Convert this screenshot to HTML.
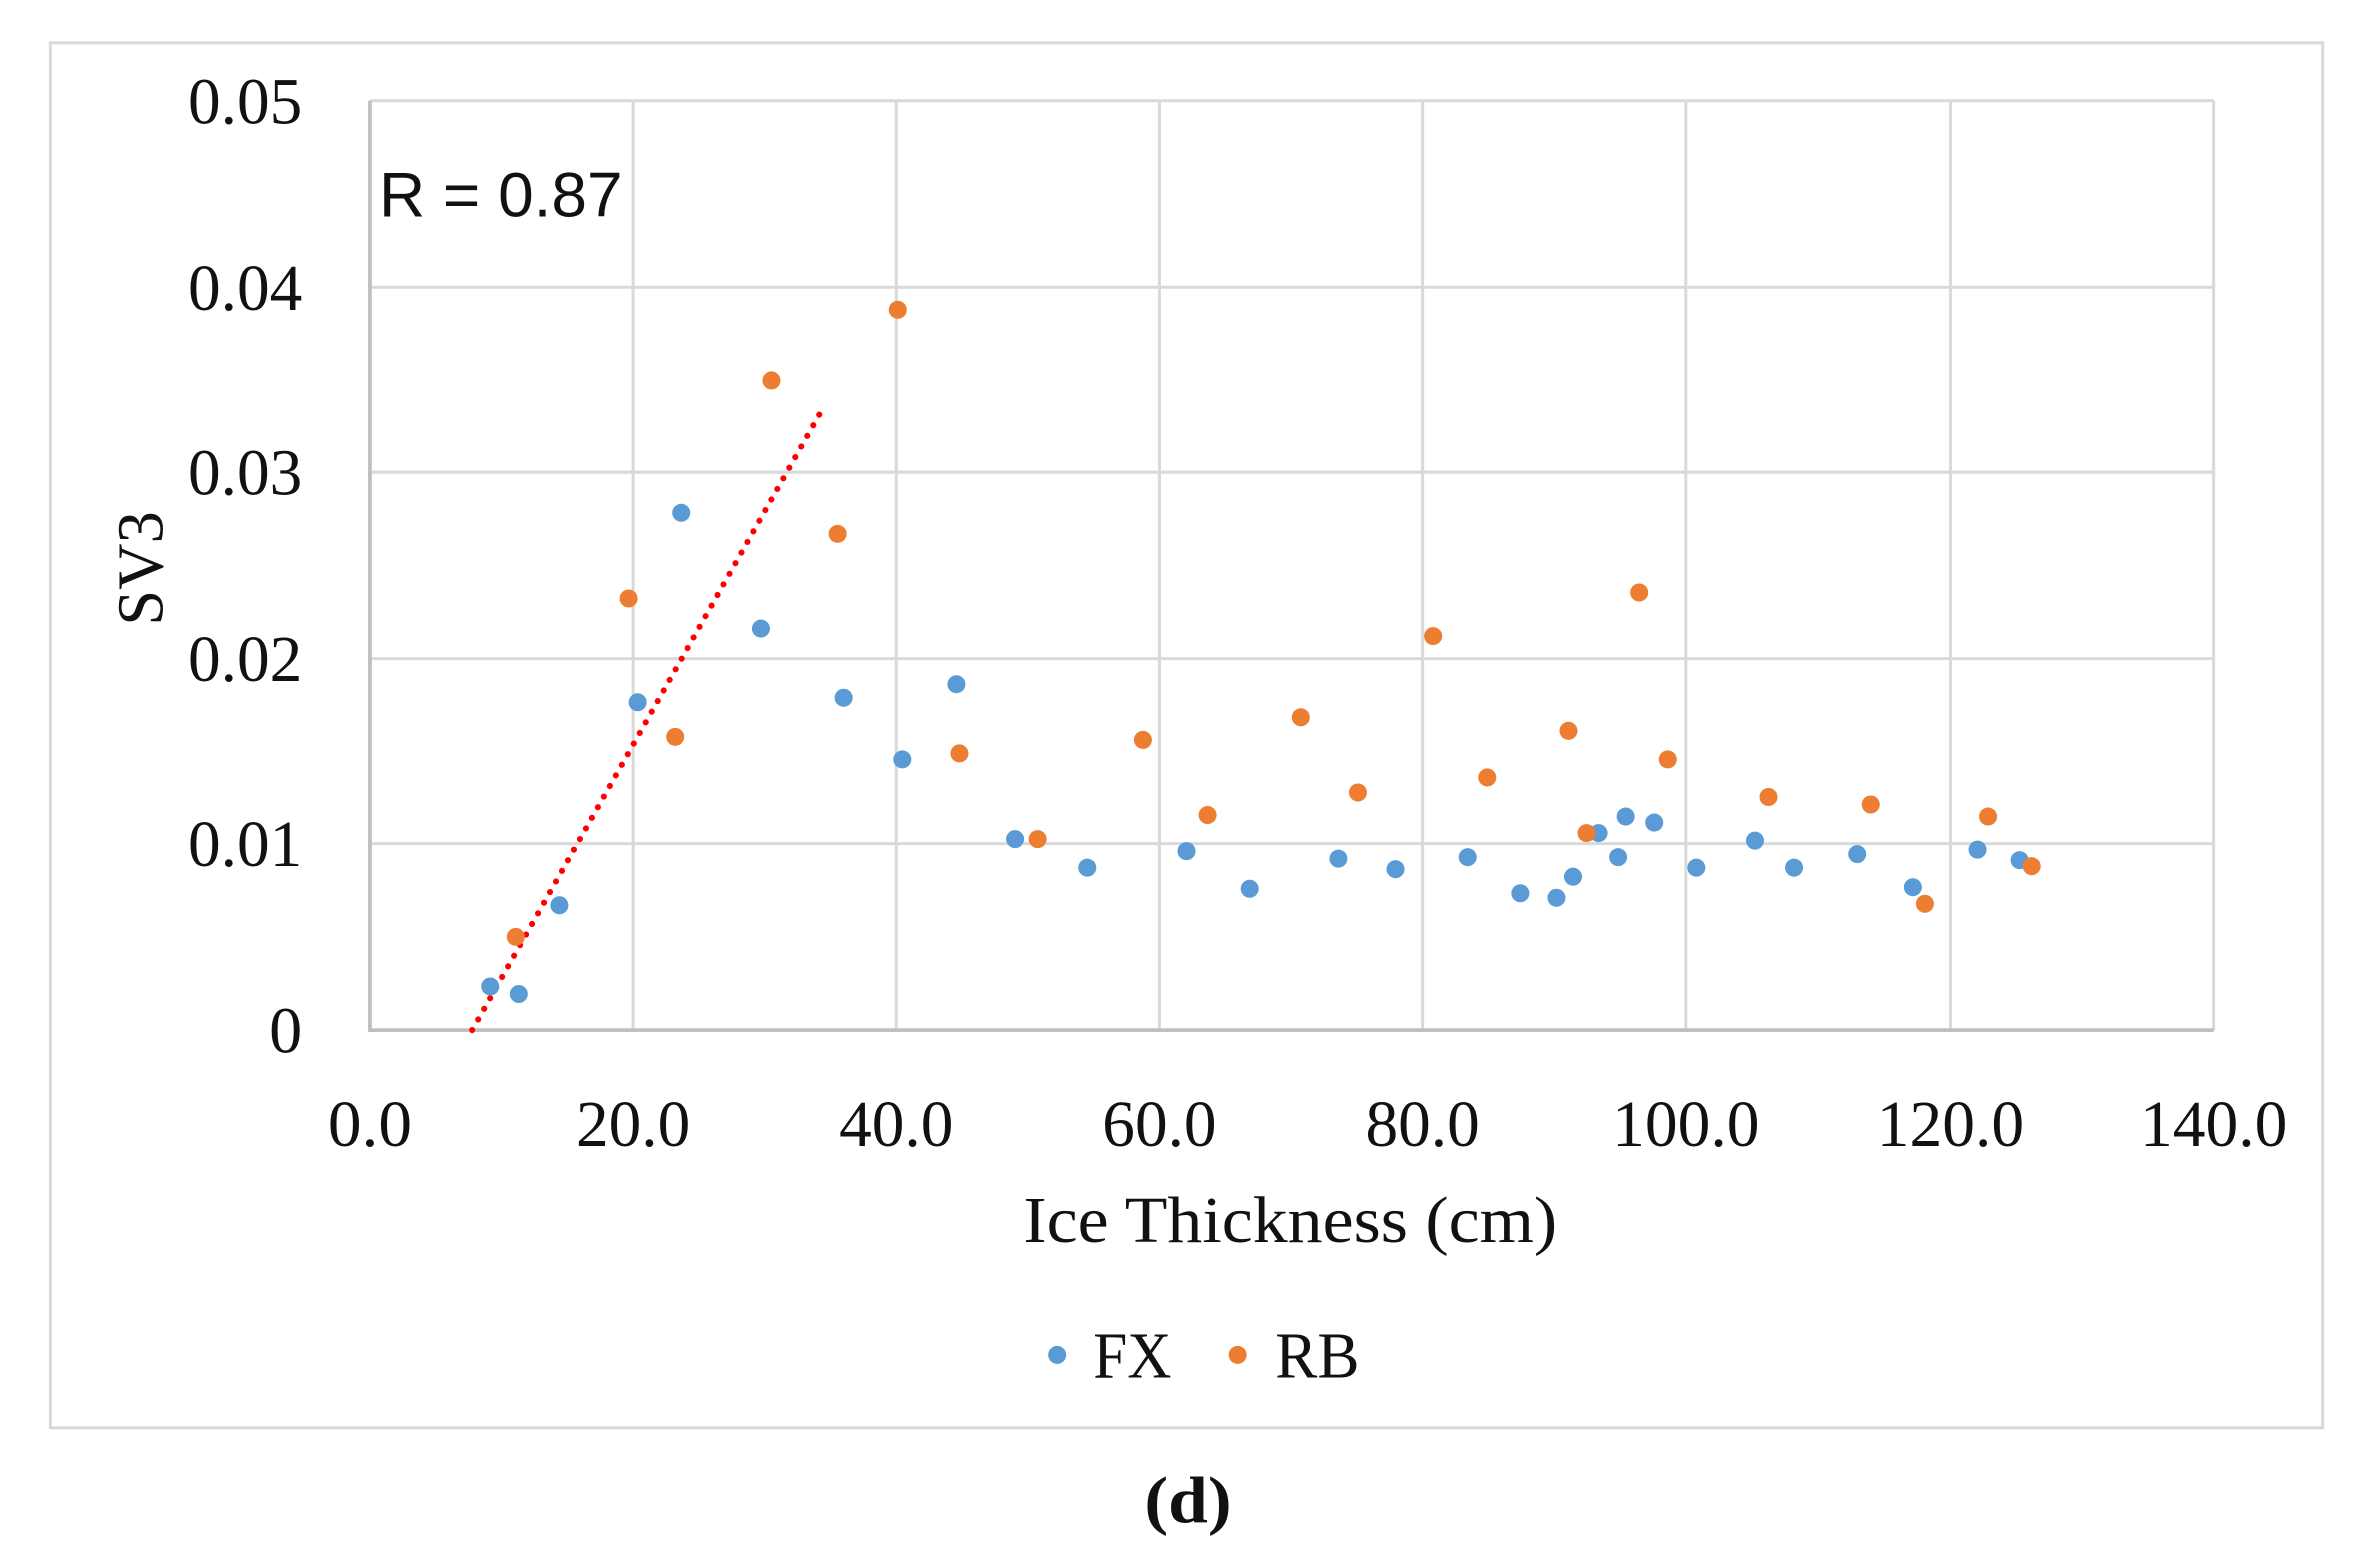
<!DOCTYPE html>
<html><head><meta charset="utf-8"><style>html,body{margin:0;padding:0;background:#fff}svg{display:block}</style></head>
<body>
<svg width="2358" height="1554" viewBox="0 0 1568 1033.4" preserveAspectRatio="none" xmlns="http://www.w3.org/2000/svg">
<rect x="0" y="0" width="1568" height="1034" fill="#fff"/>
<rect x="33.5" y="28.5" width="1511" height="921" fill="none" stroke="#d9d9d9" stroke-width="2"/>
<g stroke="#d9d9d9" stroke-width="2">
<line x1="246" y1="67" x2="1472" y2="67"/><line x1="246" y1="191" x2="1472" y2="191"/><line x1="246" y1="314" x2="1472" y2="314"/><line x1="246" y1="438" x2="1472" y2="438"/><line x1="246" y1="561" x2="1472" y2="561"/>
<line x1="421" y1="67" x2="421" y2="685"/><line x1="596" y1="67" x2="596" y2="685"/><line x1="771" y1="67" x2="771" y2="685"/><line x1="946" y1="67" x2="946" y2="685"/><line x1="1121" y1="67" x2="1121" y2="685"/><line x1="1297" y1="67" x2="1297" y2="685"/><line x1="1472" y1="67" x2="1472" y2="685"/>
</g>
<g stroke="#bfbfbf" stroke-width="2.5"><line x1="246" y1="67" x2="246" y2="686"/><line x1="245" y1="685" x2="1472" y2="685"/></g>
<g font-family="Liberation Serif, serif" font-size="44" fill="#111" text-anchor="end">
<text x="201" y="82" textLength="76" lengthAdjust="spacingAndGlyphs">0.05</text>
<text x="201" y="206" textLength="76" lengthAdjust="spacingAndGlyphs">0.04</text>
<text x="201" y="329" textLength="76" lengthAdjust="spacingAndGlyphs">0.03</text>
<text x="201" y="453" textLength="76" lengthAdjust="spacingAndGlyphs">0.02</text>
<text x="201" y="576" textLength="76" lengthAdjust="spacingAndGlyphs">0.01</text>
<text x="201" y="700">0</text>
</g>
<g font-family="Liberation Serif, serif" font-size="44" fill="#111" text-anchor="middle">
<text x="246" y="762" textLength="56" lengthAdjust="spacingAndGlyphs">0.0</text>
<text x="421" y="762" textLength="76" lengthAdjust="spacingAndGlyphs">20.0</text>
<text x="596" y="762" textLength="76" lengthAdjust="spacingAndGlyphs">40.0</text>
<text x="771" y="762" textLength="76" lengthAdjust="spacingAndGlyphs">60.0</text>
<text x="946" y="762" textLength="76" lengthAdjust="spacingAndGlyphs">80.0</text>
<text x="1121" y="762" textLength="98" lengthAdjust="spacingAndGlyphs">100.0</text>
<text x="1297" y="762" textLength="98" lengthAdjust="spacingAndGlyphs">120.0</text>
<text x="1472" y="762" textLength="98" lengthAdjust="spacingAndGlyphs">140.0</text>
<text x="858" y="826" textLength="355" lengthAdjust="spacingAndGlyphs">Ice Thickness (cm)</text>
<text transform="translate(108,378) rotate(-90)" textLength="76" lengthAdjust="spacingAndGlyphs">SV3</text>
<text x="753" y="916" textLength="52" lengthAdjust="spacingAndGlyphs">FX</text>
<text x="876" y="916" textLength="56" lengthAdjust="spacingAndGlyphs">RB</text>
<text x="790" y="1012" font-weight="bold" textLength="58" lengthAdjust="spacingAndGlyphs">(d)</text>
</g>
<text x="252" y="144" font-family="Liberation Sans, sans-serif" font-size="42" fill="#111" textLength="162" lengthAdjust="spacingAndGlyphs">R = 0.87</text>
<line x1="314" y1="685" x2="548" y2="270" stroke="#ff0000" stroke-width="4" stroke-dasharray="0.1 8" stroke-linecap="round"/>
<g fill="#5b9bd5">
<circle cx="703" cy="901" r="6"/>
<circle cx="326" cy="656" r="6"/><circle cx="345" cy="661" r="6"/><circle cx="372" cy="602" r="6"/><circle cx="424" cy="467" r="6"/><circle cx="453" cy="341" r="6"/><circle cx="506" cy="418" r="6"/><circle cx="561" cy="464" r="6"/><circle cx="600" cy="505" r="6"/><circle cx="636" cy="455" r="6"/><circle cx="675" cy="558" r="6"/><circle cx="723" cy="577" r="6"/><circle cx="789" cy="566" r="6"/><circle cx="831" cy="591" r="6"/><circle cx="890" cy="571" r="6"/><circle cx="928" cy="578" r="6"/><circle cx="976" cy="570" r="6"/><circle cx="1011" cy="594" r="6"/><circle cx="1035" cy="597" r="6"/><circle cx="1046" cy="583" r="6"/><circle cx="1063" cy="554" r="6"/><circle cx="1076" cy="570" r="6"/><circle cx="1081" cy="543" r="6"/><circle cx="1100" cy="547" r="6"/><circle cx="1128" cy="577" r="6"/><circle cx="1167" cy="559" r="6"/><circle cx="1193" cy="577" r="6"/><circle cx="1235" cy="568" r="6"/><circle cx="1272" cy="590" r="6"/><circle cx="1315" cy="565" r="6"/><circle cx="1343" cy="572" r="6"/>
</g>
<g fill="#ed7d31">
<circle cx="823" cy="901" r="6"/>
<circle cx="343" cy="623" r="6"/><circle cx="418" cy="398" r="6"/><circle cx="449" cy="490" r="6"/><circle cx="513" cy="253" r="6"/><circle cx="557" cy="355" r="6"/><circle cx="597" cy="206" r="6"/><circle cx="638" cy="501" r="6"/><circle cx="690" cy="558" r="6"/><circle cx="760" cy="492" r="6"/><circle cx="803" cy="542" r="6"/><circle cx="865" cy="477" r="6"/><circle cx="903" cy="527" r="6"/><circle cx="953" cy="423" r="6"/><circle cx="989" cy="517" r="6"/><circle cx="1043" cy="486" r="6"/><circle cx="1055" cy="554" r="6"/><circle cx="1090" cy="394" r="6"/><circle cx="1109" cy="505" r="6"/><circle cx="1176" cy="530" r="6"/><circle cx="1244" cy="535" r="6"/><circle cx="1280" cy="601" r="6"/><circle cx="1322" cy="543" r="6"/><circle cx="1351" cy="576" r="6"/>
</g>
</svg>
</body></html>
